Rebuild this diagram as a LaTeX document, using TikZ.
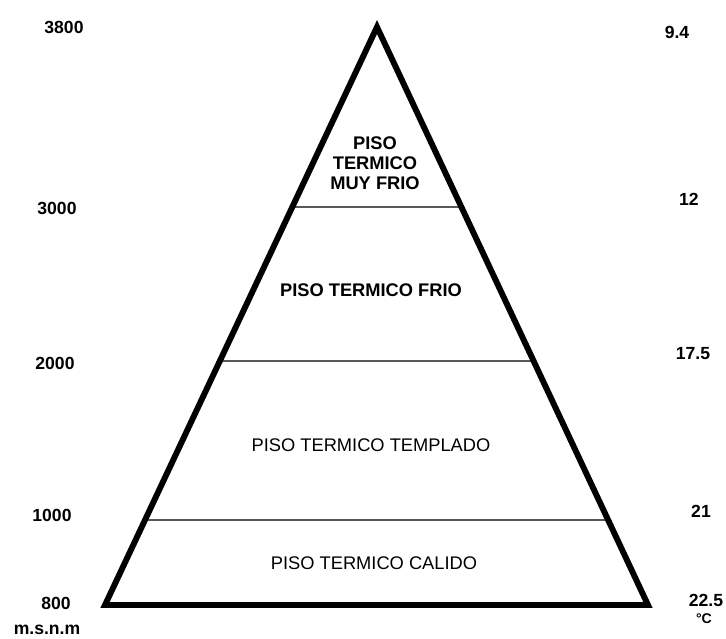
\documentclass[tikz,border=0pt]{standalone}
\usepackage{fontspec}
\setmainfont{Liberation Sans}
\usetikzlibrary{calc}

\begin{document}
\begin{tikzpicture}[x=0.025cm,y=-0.025cm]
	\tikzstyle{every node}=[font=\bfseries\fontsize{12.5}{14}\selectfont, inner sep=0pt];
	\tikzstyle{piso}=[font=\bfseries\fontsize{13}{14.2}\selectfont, align=center];
	\tikzstyle{pisolight}=[font=\fontsize{13}{14.2}\selectfont];
	\useasboundingbox (0,0) rectangle (726,639);

	%Corners
	\coordinate (apex) at (377,27);
	\coordinate (bl) at (105,605);
	\coordinate (br) at (648,605);

	%Dividers
	\draw[gray!70!black, line width=1pt] ($(apex)!0.3114!(bl)$) -- ($(apex)!0.3114!(br)$);
	\draw[gray!70!black, line width=1pt] ($(apex)!0.578!(bl)$) -- ($(apex)!0.578!(br)$);
	\draw[gray!70!black, line width=1pt] ($(apex)!0.853!(bl)$) -- ($(apex)!0.853!(br)$);

	%Triangle
	\draw[line width=4.2pt, line join=miter] (apex) -- (bl) -- (br) -- cycle;

	%Floors
	\node[piso] (muyfrio) at (375,163) {PISO\\TERMICO\\MUY FRIO};
	\node[piso] (frio) at (371,290) {PISO TERMICO FRIO};
	\node[pisolight] (templado) at (371,445) {PISO TERMICO TEMPLADO};
	\node[pisolight] (calido) at (374,563) {PISO TERMICO CALIDO};

	%Altitude
	\node (alt3800) at (64,27) {3800};
	\node (alt3000) at (57,208) {3000};
	\node (alt2000) at (55,363) {2000};
	\node (alt1000) at (52,515) {1000};
	\node (alt800) at (56,603) {800};
	\node (msnm) at (47,630) {m.s.n.m};

	%Temperature
	\node (t94) at (677,32) {9.4};
	\node (t12) at (689,199) {12};
	\node (t175) at (693,354) {17.5};
	\node (t21) at (701,511) {21};
	\node (t225) at (706,600) {22.5};
	\node[font=\bfseries\fontsize{10}{12}\selectfont] (unit) at (704,619) {°C};
\end{tikzpicture}
\end{document}
